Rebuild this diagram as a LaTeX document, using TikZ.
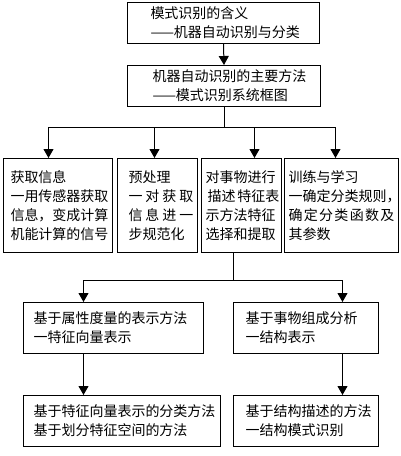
\documentclass[tikz,border=0pt]{standalone}
\usepackage{fontspec}
\newfontfamily\cjk{Noto Sans CJK SC}
\usepackage{tikz}
\usetikzlibrary{arrows.meta,positioning,calc}
\tikzset{kbox/.style={rectangle, draw=black, line width=1pt, anchor=north west, inner xsep=4pt, inner ysep=2pt, align=left, font=\cjk\fontsize{14pt}{19pt}\selectfont, execute at begin node={\setlength{\baselineskip}{19pt}\leftskip=#1}},
	kbox/.default=0pt,
	jt/.style={line width=1pt, -{Triangle[width=10pt,length=9pt]}}}

\begin{document}
\begin{tikzpicture}[x=1pt,y=-1pt]
	\useasboundingbox (0,0) rectangle (400,456);
	% top
	\node[kbox=19pt, text width=184pt, minimum height=41pt] (m1) at (127,2) {模式识别的含义\\——机器自动识别与分类};
	\node[kbox=21pt, text width=185pt, minimum height=41pt] (m2) at (127,65) {机器自动识别的主要方法\\——模式识别系统框图};
	\draw[jt] (m1.south) -- (m2.north);
	% second row
	\node[kbox=3pt, text width=101pt, minimum height=94pt] (a) at (3,158) {获取信息\\一用传感器获取\\信息，变成计算\\机能计算的信号};
	\node[kbox=7pt, text width=72pt, minimum height=94pt] (b) at (117,158) {预处理\\一\hfill 对\hfill 获\hfill 取\\信\hfill 息\hfill 进\hfill 一\\步规范化};
	\node[kbox=0pt, text width=72pt, minimum height=94pt] (c) at (201,158) {对事物进行\\\mbox{\hspace*{2pt}描述\hspace{2pt}特征表}\\示方法特征\\选择和提取};
	\node[kbox=0pt, text width=106pt, minimum height=94pt] (d) at (284,158) {训练与学习\\一确定分类规则，\\确\hfill 定\hfill 分\hfill 类\hfill 函\hfill 数\hfill 及\\其参数};
	\coordinate (bus1) at (224,127);
	\draw[line width=1pt] (m2.south) -- (m2.south |- bus1);
	\draw[jt] (m2.south |- bus1) -| ([xshift=-9.5pt]a.north);
	\draw[jt] (m2.south |- bus1) -| ([xshift=-3pt]b.north);
	\draw[jt] (m2.south |- bus1) -| ([xshift=13pt]c.north);
	\draw[jt] (m2.south |- bus1) -| ([xshift=-6pt]d.north);
	% representation
	\node[kbox=6pt, text width=172pt, minimum height=51pt] (e) at (23,302) {基于属性度量的表示方法\\一特征向量表示};
	\node[kbox=8pt, text width=137pt, minimum height=51pt] (f) at (233,302) {基于事物组成分析\\一结构表示};
	\coordinate (bus2) at (233,280);
	\draw[line width=1pt] ([xshift=-8pt]c.south) -- ([xshift=-8pt]c.south |- bus2);
	\draw[jt] ([xshift=-8pt]c.south |- bus2) -| ([xshift=-30pt]e.north);
	\draw[jt] ([xshift=-8pt]c.south |- bus2) -| ([xshift=36.5pt]f.north);
	% recognition
	\node[kbox=6pt, text width=189pt, minimum height=51pt] (g) at (23,395) {基于特征向量表示的分类方法\\基于划分特征空间的方法};
	\node[kbox=8pt, text width=137pt, minimum height=51pt] (h) at (233,395) {基于结构描述的方法\\一结构模式识别};
	\draw[jt] ([xshift=-30pt]e.south) -- ([xshift=-30pt]e.south |- g.north);
	\draw[jt] ([xshift=36.5pt]f.south) -- ([xshift=36.5pt]f.south |- h.north);
\end{tikzpicture}
\end{document}
